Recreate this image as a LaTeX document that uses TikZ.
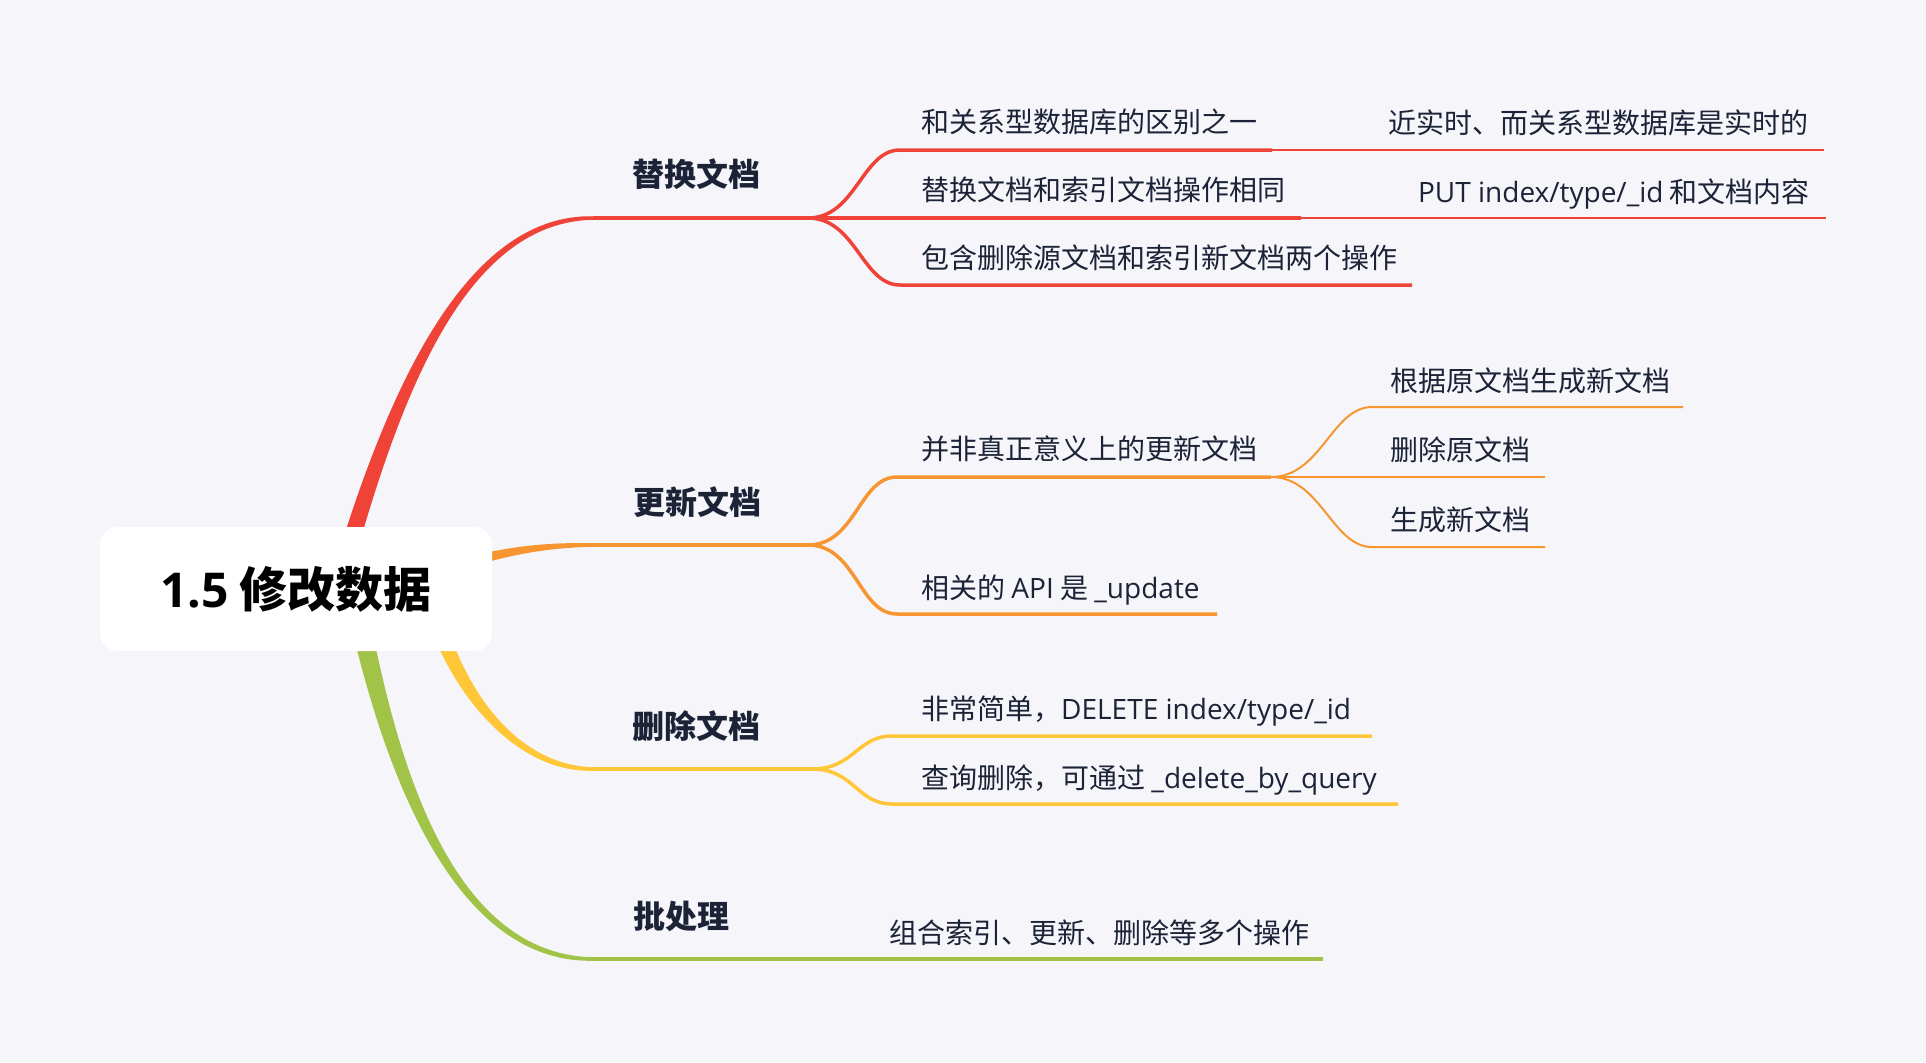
\documentclass[tikz,border=0pt]{standalone}
\usepackage{fontspec}
\setmainfont{Noto Sans CJK SC}
\newfontfamily\lat{Open Sans}
\usetikzlibrary{calc}
\definecolor{bg}{RGB}{245,245,250}
\definecolor{cred}{RGB}{240,67,56}
\definecolor{corg}{RGB}{247,150,48}
\definecolor{cyel}{RGB}{255,199,56}
\definecolor{cgrn}{RGB}{161,196,72}
\definecolor{ink}{RGB}{28,35,55}
% tapered branch: #1 colour, #2..#5 curve points, #6..#9 half widths
\newcommand\taperbranch[9]{%
  \fill[#1] ($(#2)!#6!90:(#3)$) .. controls ($(#3)!#7!-90:(#2)$) and ($(#4)!#8!90:(#5)$) .. ($(#5)!#9!-90:(#4)$)
    -- ($(#5)!#9!90:(#4)$) .. controls ($(#4)!#8!-90:(#5)$) and ($(#3)!#7!90:(#2)$) .. ($(#2)!#6!-90:(#3)$) -- cycle;}
\tikzset{
  leaf/.style={anchor=west, inner sep=0pt, text=ink, font=\fontsize{28}{34}\selectfont, text height=23pt, text depth=2.5pt},
  topic/.style={anchor=west, inner sep=0pt, text=ink, font=\fontsize{32}{38}\selectfont\bfseries, text height=26.3pt, text depth=2.9pt},
  rootbox/.style={fill=white, rounded corners=18pt, minimum width=392pt, minimum height=124pt, inner sep=0pt, text=black, font=\fontsize{48}{56}\selectfont\bfseries},
  mainline/.style={line width=3.5pt},
  subline/.style={line width=2pt},
}
\begin{document}
\begin{tikzpicture}[x=1pt,y=-1pt]
\fill[bg] (0,0) rectangle (1926,1062);
\useasboundingbox (0,0) rectangle (1926,1062);

% ---------- red branch ----------
\coordinate (r0) at (350,545); \coordinate (r1) at (400,380);
\coordinate (r2) at (470,218); \coordinate (r3) at (593,218);
\taperbranch{cred}{r0}{r1}{r2}{r3}{8.5pt}{6.3pt}{4.2pt}{1.75pt}
\coordinate (rF) at (808,218);
\coordinate (rA) at (900,150); \coordinate (rAe) at (1272,150); \coordinate (rA1e) at (1824,150);
\coordinate (rBe) at (1301,218); \coordinate (rB1e) at (1826,218);
\coordinate (rC) at (900,285); \coordinate (rCe) at (1412,285);
\draw[cred, mainline] (r3) -- (rF);
\draw[cred, mainline] (rF) .. controls +(48,0) and +(-38,0) .. (rA) -- (rAe);
\draw[cred, subline] (rAe) -- (rA1e);
\draw[cred, mainline] (rF) -- (rBe);
\draw[cred, subline] (rBe) -- (rB1e);
\draw[cred, mainline] (rF) .. controls +(48,0) and +(-38,0) .. (rC) -- (rCe);

% ---------- orange branch ----------
\coordinate (o0) at (440,570); \coordinate (o1) at (500,552);
\coordinate (o2) at (540,545); \coordinate (o3) at (593,545);
\taperbranch{corg}{o0}{o1}{o2}{o3}{6pt}{4.5pt}{3pt}{1.75pt}
\coordinate (oF) at (808,545);
\coordinate (oD) at (897,477); \coordinate (oDe) at (1271,477);
\coordinate (oE1) at (1372,407); \coordinate (oE1e) at (1683,407);
\coordinate (oE2e) at (1545,477);
\coordinate (oE3) at (1372,547); \coordinate (oE3e) at (1545,547);
\coordinate (oG) at (897,614); \coordinate (oGe) at (1217,614);
\draw[corg, mainline] (o3) -- (oF);
\draw[corg, mainline] (oF) .. controls +(48,0) and +(-38,0) .. (oD) -- (oDe);
\draw[corg, mainline] (oF) .. controls +(48,0) and +(-38,0) .. (oG) -- (oGe);
\draw[corg, subline] (oDe) .. controls +(50,0) and +(-40,0) .. (oE1) -- (oE1e);
\draw[corg, subline] (oDe) -- (oE2e);
\draw[corg, subline] (oDe) .. controls +(50,0) and +(-40,0) .. (oE3) -- (oE3e);

% ---------- yellow branch ----------
\coordinate (y0) at (440,630); \coordinate (y1) at (465,700);
\coordinate (y2) at (520,769); \coordinate (y3) at (593,769);
\taperbranch{cyel}{y0}{y1}{y2}{y3}{8pt}{6pt}{4pt}{1.75pt}
\coordinate (yF) at (812,769);
\coordinate (yA) at (892,736); \coordinate (yAe) at (1372,736);
\coordinate (yB) at (892,804); \coordinate (yBe) at (1398,804);
\draw[cyel, mainline] (y3) -- (yF);
\draw[cyel, mainline] (yF) .. controls +(42,0) and +(-35,0) .. (yA) -- (yAe);
\draw[cyel, mainline] (yF) .. controls +(42,0) and +(-35,0) .. (yB) -- (yBe);

% ---------- green branch ----------
\coordinate (g0) at (360,620); \coordinate (g1) at (390,760);
\coordinate (g2) at (450,959); \coordinate (g3) at (593,959);
\taperbranch{cgrn}{g0}{g1}{g2}{g3}{10pt}{7.3pt}{4.6pt}{1.75pt}
\coordinate (gF) at (808,959); \coordinate (gAe) at (1323,959);
\draw[cgrn, mainline] (g3) -- (gF) -- (gAe);

% ---------- root ----------
\node[rootbox] (root) at (296,589) {{\lat 1.5} 修改数据};

% ---------- texts ----------
\node[topic] (t1) at (632,175) {替换文档};
\node[leaf] (a1) at (921,122) {和关系型数据库的区别之一};
\node[leaf, anchor=east] (a11) at (1809,123) {近实时、而关系型数据库是实时的};
\node[leaf] (a2) at (921,190) {替换文档和索引文档操作相同};
\node[leaf, anchor=east] (a21) at (1810,192) {{\lat PUT index/type/\_id} 和文档内容};
\node[leaf] (a3) at (921,258) {包含删除源文档和索引新文档两个操作};

\node[topic] (t2) at (633,503) {更新文档};
\node[leaf] (b1) at (921,449) {并非真正意义上的更新文档};
\node[leaf] (b11) at (1390,381) {根据原文档生成新文档};
\node[leaf] (b12) at (1390,450) {删除原文档};
\node[leaf] (b13) at (1390,520) {生成新文档};
\node[leaf] (b2) at (921,588) {相关的 {\lat API} 是 {\lat \_update}};

\node[topic] (t3) at (632,727) {删除文档};
\node[leaf] (c1) at (921,709) {非常简单，{\lat DELETE index/type/\_id}};
\node[leaf] (c2) at (921,778) {查询删除，可通过 {\lat \_delete\_by\_query}};

\node[topic] (t4) at (633,917) {批处理};
\node[leaf] (d1) at (889,933) {组合索引、更新、删除等多个操作};
\end{tikzpicture}
\end{document}
